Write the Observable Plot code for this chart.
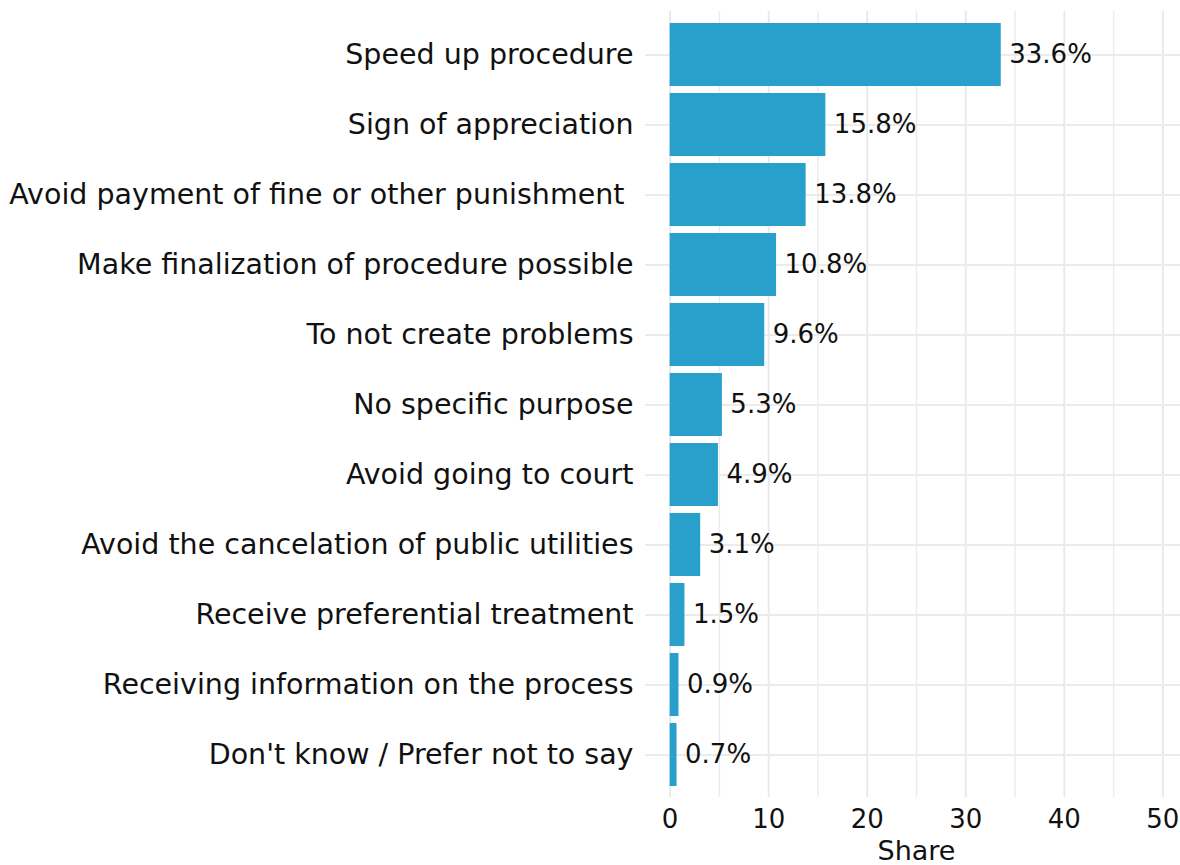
<!DOCTYPE html>
<html><head><meta charset="utf-8">
<script src="https://cdn.jsdelivr.net/npm/d3@7"></script>
<script src="https://cdn.jsdelivr.net/npm/@observablehq/plot@0.6"></script>
<style>body{margin:0;background:#fff;overflow:hidden;} #chart svg{overflow:hidden;}</style>
</head><body><div id="chart"></div>
<script>
const categories = [
  "Speed up procedure",
  "Sign of appreciation",
  "Avoid payment of fine or other punishment\u00a0",
  "Make finalization of procedure possible",
  "To not create problems",
  "No specific purpose",
  "Avoid going to court",
  "Avoid the cancelation of public utilities",
  "Receive preferential treatment",
  "Receiving information on the process",
  "Don't know / Prefer not to say"
];
const shares = [33.6, 15.8, 13.8, 10.8, 9.6, 5.3, 4.9, 3.1, 1.5, 0.9, 0.7];
const majorTicks = [0, 10, 20, 30, 40, 50];
const minorTicks = [5, 15, 25, 35, 45];
const xLabel = "Share";

const data = categories.map((c, i) => ({reason: c, share: shares[i]}));
const font = "'DejaVu Sans', sans-serif";
const fsY = 28.5, fsNum = 26;
const plot = Plot.plot({
  width: 1180, height: 865,
  marginLeft: 645, marginRight: -7, marginTop: 11, marginBottom: 68,
  style: {fontFamily: font, fontSize: fsY + "px", color: "#111", background: "#fff"},
  x: {domain: [-2.5, 52.5]},
  y: {domain: categories, paddingInner: 0.1, paddingOuter: 0.15},
  marks: [
    Plot.ruleX(minorTicks, {stroke: "#ebebeb", strokeWidth: 1.4}),
    Plot.ruleX(majorTicks, {stroke: "#e8e8e8", strokeWidth: 1.8}),
    Plot.ruleY(categories, {y: d => d, stroke: "#ebebeb", strokeWidth: 1.8}),
    Plot.barX(data, {x: "share", y: "reason", fill: "#29a0cb"}),
    Plot.text(data, {x: "share", y: "reason", text: d => d.share.toFixed(1) + "%", textAnchor: "start", dx: 8, fill: "#111", fontSize: fsNum}),
    Plot.axisY({tickSize: 0, tickPadding: 12, fontSize: fsY, label: null}),
    Plot.axisX({ticks: majorTicks, tickSize: 0, tickPadding: 12, fontSize: fsNum, label: null}),
    Plot.axisX({ticks: [], tickSize: 0, fontSize: 27, label: xLabel, labelAnchor: "center", labelArrow: "none", labelOffset: 62})
  ]
});
document.getElementById("chart").append(plot);
</script>
</body></html>
